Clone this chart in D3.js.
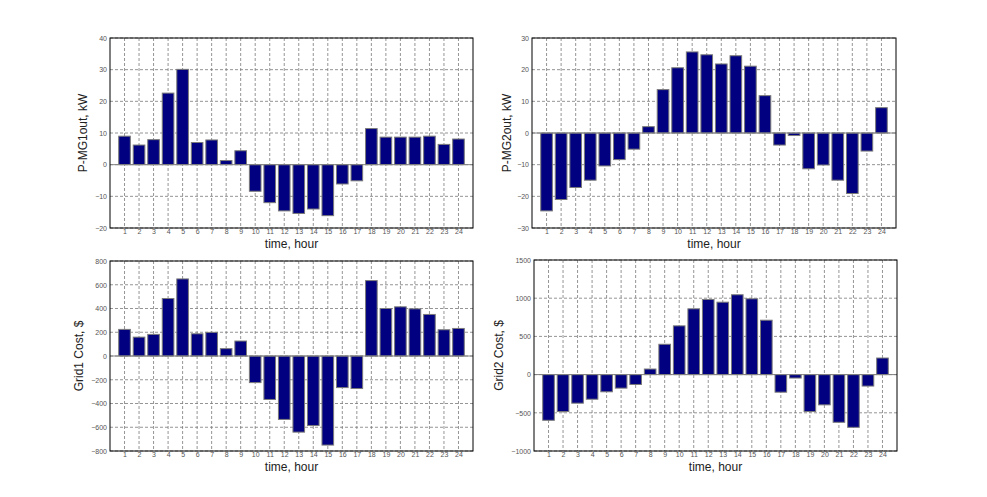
<!DOCTYPE html>
<html><head><meta charset="utf-8">
<script src="https://cdn.jsdelivr.net/npm/d3@7"></script>
<style>
html,body{margin:0;padding:0;background:#fff;}
svg{display:block;font-family:"Liberation Sans",Arial,sans-serif;}
</style></head>
<body>
<svg id="chart" width="987" height="497"></svg>
<script>
const hours = d3.range(1, 25);
const mg1Out = [9.0, 6.2, 7.9, 22.6, 30.1, 7.0, 7.8, 1.3, 4.4, -8.4, -12.0, -14.6, -15.4, -14.0, -16.1, -6.1, -5.1, 11.4, 8.7, 8.7, 8.7, 9.0, 6.4, 8.1];
const mg2Out = [-24.6, -21.0, -17.2, -14.9, -10.4, -8.4, -5.1, 2.0, 13.7, 20.6, 25.6, 24.7, 21.8, 24.4, 21.1, 11.8, -3.8, -0.8, -11.3, -10.1, -14.9, -19.1, -5.7, 8.0];
const grid1Cost = [224, 159, 182, 484, 649, 187, 199, 62, 126, -224, -366, -534, -641, -585, -750, -266, -274, 635, 400, 414, 397, 350, 221, 232];
const grid2Cost = [-598, -484, -374, -322, -225, -177, -129, 73, 397, 638, 861, 984, 948, 1045, 992, 712, -230, -45, -484, -396, -624, -690, -150, 217];
const ticks1 = [-20, -10, 0, 10, 20, 30, 40];
const ticks2 = [-30, -20, -10, 0, 10, 20, 30];
const ticks3 = [-800, -600, -400, -200, 0, 200, 400, 600, 800];
const ticks4 = [-1000, -500, 0, 500, 1000, 1500];
const xLabel = "time, hour";

const panels = [
  {values: mg1Out, ticks: ticks1, ylabel: "P-MG1out, kW", box: [110, 38, 473, 228], ylx: 84},
  {values: mg2Out, ticks: ticks2, ylabel: "P-MG2out, kW", box: [532, 38, 896, 228], ylx: 508},
  {values: grid1Cost, ticks: ticks3, ylabel: "Grid1 Cost, $", box: [110, 261, 473, 451], ylx: 80},
  {values: grid2Cost, ticks: ticks4, ylabel: "Grid2 Cost, $", box: [534, 260, 897, 451], ylx: 500}
];

const svg = d3.select("#chart");

panels.forEach(p => {
  const [L, T, R, B] = p.box;
  const x = d3.scaleLinear().domain([0, 25]).range([L, R]);
  const y = d3.scaleLinear().domain(d3.extent(p.ticks)).range([B, T]);
  const g = svg.append("g");

  // grid lines
  g.selectAll(".vg").data(hours).join("line")
    .attr("x1", d => x(d)).attr("x2", d => x(d))
    .attr("y1", T).attr("y2", B)
    .attr("stroke", "#7a7a7a").attr("stroke-width", 0.8).attr("stroke-dasharray", "3,2");
  g.selectAll(".hg").data(p.ticks).join("line")
    .attr("x1", L).attr("x2", R)
    .attr("y1", d => y(d)).attr("y2", d => y(d))
    .attr("stroke", "#7a7a7a").attr("stroke-width", 0.8).attr("stroke-dasharray", "3,2");

  // bars
  const bw = x(0.8) - x(0);
  g.selectAll(".bar").data(p.values).join("rect")
    .attr("x", (d, i) => x(hours[i]) - bw / 2)
    .attr("width", bw)
    .attr("y", d => Math.min(y(d), y(0)))
    .attr("height", d => Math.abs(y(d) - y(0)))
    .attr("fill", "#000080")
    .attr("stroke", "#7a7a7a").attr("stroke-width", 1);

  // baseline
  g.append("line").attr("x1", L).attr("x2", R).attr("y1", y(0)).attr("y2", y(0))
    .attr("stroke", "#808080").attr("stroke-width", 1);

  // axes
  const ya = d3.axisLeft(y).tickValues(p.ticks).tickSize(0).tickPadding(3).tickFormat(d3.format("d"));
  const yg = g.append("g").attr("transform", `translate(${L},0)`).call(ya);
  const xa = d3.axisBottom(x).tickValues(hours).tickSize(0).tickPadding(1).tickFormat(d3.format("d"));
  const xg = g.append("g").attr("transform", `translate(0,${B})`).call(xa);
  [yg, xg].forEach(a => {
    a.select(".domain").remove();
    a.selectAll("text").attr("font-size", 7).attr("fill", "#555").attr("font-family", "\"Liberation Sans\",Arial,sans-serif");
  });

  // box
  g.append("rect").attr("x", L).attr("y", T).attr("width", R - L).attr("height", B - T)
    .attr("fill", "none").attr("stroke", "#000").attr("stroke-width", 1);

  // labels
  g.append("text").attr("x", (L + R) / 2).attr("y", B + 20)
    .attr("text-anchor", "middle").attr("font-size", 12).attr("fill", "#222").text(xLabel);
  g.append("text").attr("transform", `translate(${p.ylx},${(T + B) / 2}) rotate(-90)`)
    .attr("text-anchor", "middle").attr("dominant-baseline", "middle")
    .attr("font-size", 12).attr("fill", "#222").text(p.ylabel);
});
</script>
</body></html>
